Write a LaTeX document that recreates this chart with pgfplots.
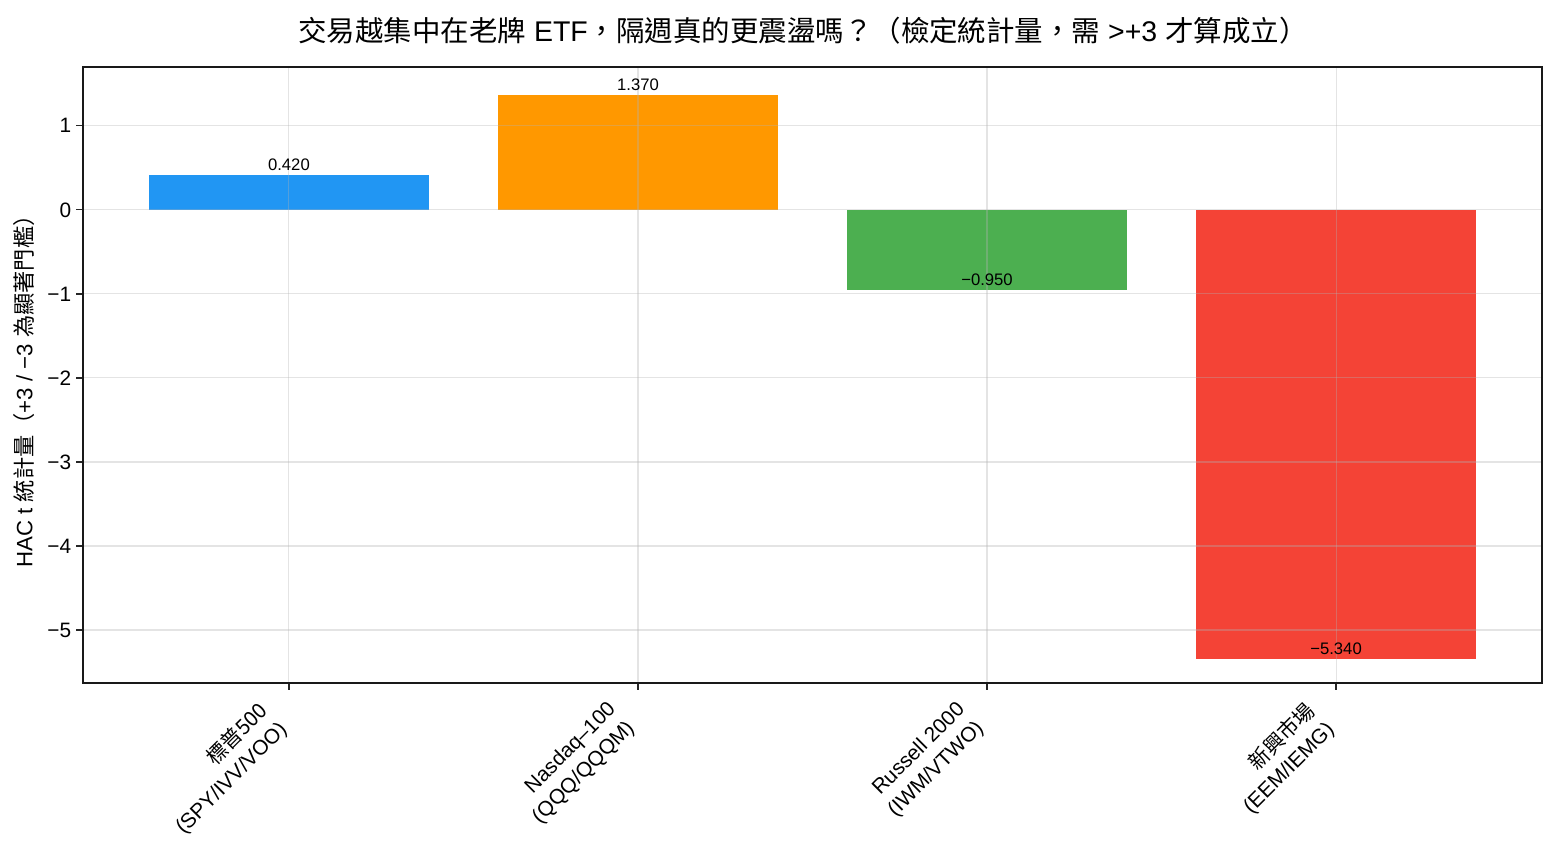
\documentclass[border=0pt]{standalone}
\usepackage{fontspec}
\setmainfont{Liberation Sans}
\newfontfamily\cjk{Noto Sans CJK TC}
\usepackage{pgfplots}
\pgfplotsset{compat=1.18}
\definecolor{cBlue}{HTML}{2196F3}
\definecolor{cOrange}{HTML}{FF9800}
\definecolor{cGreen}{HTML}{4CAF50}
\definecolor{cRed}{HTML}{F44336}
\begin{document}
\begin{tikzpicture}[x=1pt,y=1pt]
\useasboundingbox (-59.76,-120.24) rectangle (1061.3,491.74);
\begin{axis}[
  at={(0,0)}, anchor=south west,
  scale only axis, width=1050.5pt, height=443.5pt,
  xmin=-0.59, xmax=3.59, ymin=-5.63, ymax=1.70,
  ybar, bar width=0.8, bar shift=0pt,
  axis on top,
  grid=major,
  major grid style={color=gray!60, opacity=0.35, line width=0.8pt},
  axis line style={line width=0.9pt, color=black!90},
  tick align=outside, tick pos=left,
  major tick length=5pt,
  tick style={line width=0.9pt, color=black!85},
  xtick={0,1,2,3},
  xticklabels={{\cjk 標普500}\\(SPY/IVV/VOO), Nasdaq–100\\(QQQ/QQQM), Russell 2000\\(IWM/VTWO), {\cjk 新興市場}\\(EEM/IEMG)},
  xticklabel style={rotate=45, anchor=north east, align=right, font=\fontsize{15}{19}\selectfont, inner sep=2pt, xshift=-19.3pt, yshift=13.5pt},
  ytick={-5,-4,-3,-2,-1,0,1},
  yticklabels={−5,−4,−3,−2,−1,0,1},
  yticklabel style={font=\fontsize{15}{17}\selectfont},
  every node near coord/.append style={anchor=south, font=\fontsize{12}{14}\selectfont, inner sep=2.5pt, text=black},
]
\addplot[fill=cBlue, draw=none, nodes near coords={0.420}] coordinates {(0,0.42)};
\addplot[fill=cOrange, draw=none, nodes near coords={1.370}] coordinates {(1,1.37)};
\addplot[fill=cGreen, draw=none, nodes near coords={−0.950}] coordinates {(2,-0.95)};
\addplot[fill=cRed, draw=none, nodes near coords={−5.340}] coordinates {(3,-5.34)};
\end{axis}
\node[anchor=base, font=\fontsize{20.5}{23}\selectfont] at (518.4,462.1)
  {{\cjk 交易越集中在老牌} ETF{\cjk ，隔週真的更震盪嗎？（檢定統計量，需} >+3 {\cjk 才算成立）}};
\node[rotate=90, anchor=center, font=\fontsize{16}{18}\selectfont] at (-42.5,213.8)
  {HAC t {\cjk 統計量（}+3 / −3 {\cjk 為顯著門檻）}};
\end{tikzpicture}
\end{document}
